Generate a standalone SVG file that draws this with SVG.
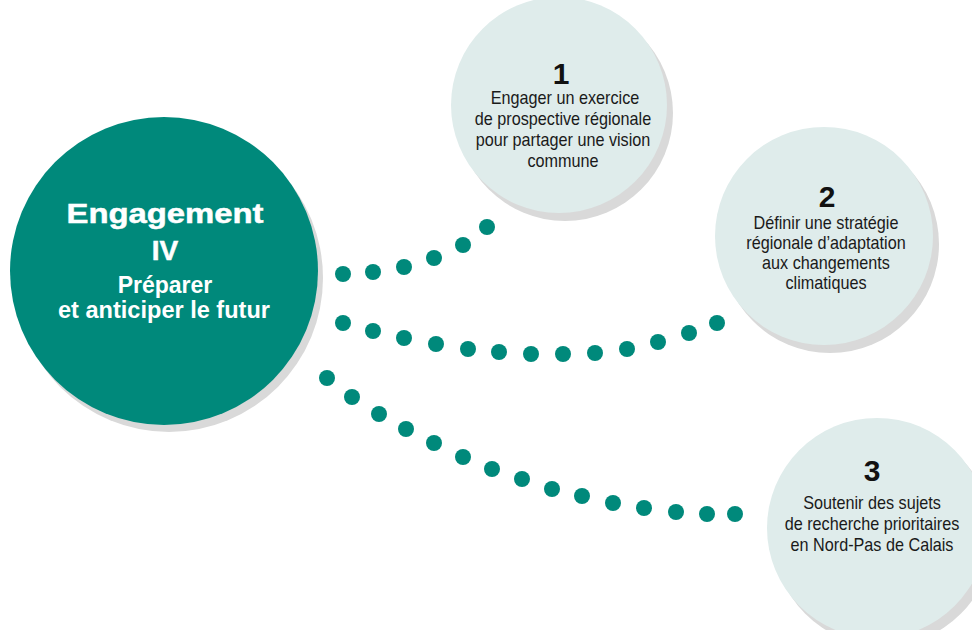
<svg xmlns="http://www.w3.org/2000/svg" width="972" height="630" viewBox="0 0 972 630">
<defs>
<style>
.shadow{fill:#d9d9d9}
.main{fill:#00897b}
.sub{fill:#dfeceb}
.dot{fill:#00897b}
.title{font-family:"Liberation Sans",Arial,sans-serif;font-weight:bold;fill:#ffffff;text-anchor:middle}
.num{font-family:"Liberation Sans",Arial,sans-serif;font-weight:bold;font-size:30px;fill:#111111;text-anchor:middle}
.body{font-family:"Liberation Sans",Arial,sans-serif;font-size:18px;fill:#1a1a1a;text-anchor:middle}
</style>
</defs>
<rect width="972" height="630" fill="#ffffff"/>
<g id="connectors">
<g id="dots-1">
<circle class="dot" cx="343" cy="274" r="8"/>
<circle class="dot" cx="373" cy="272" r="8"/>
<circle class="dot" cx="404" cy="267" r="8"/>
<circle class="dot" cx="434" cy="258" r="8"/>
<circle class="dot" cx="463" cy="245" r="8"/>
<circle class="dot" cx="487" cy="227" r="8"/>
</g>
<g id="dots-2">
<circle class="dot" cx="343" cy="323" r="8"/>
<circle class="dot" cx="373" cy="331" r="8"/>
<circle class="dot" cx="404" cy="338" r="8"/>
<circle class="dot" cx="436" cy="344" r="8"/>
<circle class="dot" cx="468" cy="349" r="8"/>
<circle class="dot" cx="499" cy="352" r="8"/>
<circle class="dot" cx="531" cy="354" r="8"/>
<circle class="dot" cx="563" cy="354" r="8"/>
<circle class="dot" cx="595" cy="353" r="8"/>
<circle class="dot" cx="627" cy="349" r="8"/>
<circle class="dot" cx="658" cy="342" r="8"/>
<circle class="dot" cx="689" cy="333" r="8"/>
<circle class="dot" cx="717" cy="323" r="8"/>
</g>
<g id="dots-3">
<circle class="dot" cx="327" cy="378" r="8"/>
<circle class="dot" cx="352" cy="397" r="8"/>
<circle class="dot" cx="379" cy="414" r="8"/>
<circle class="dot" cx="406" cy="429" r="8"/>
<circle class="dot" cx="434" cy="443" r="8"/>
<circle class="dot" cx="463" cy="457" r="8"/>
<circle class="dot" cx="492" cy="469" r="8"/>
<circle class="dot" cx="522" cy="479" r="8"/>
<circle class="dot" cx="552" cy="489" r="8"/>
<circle class="dot" cx="582" cy="496" r="8"/>
<circle class="dot" cx="613" cy="503" r="8"/>
<circle class="dot" cx="644" cy="508" r="8"/>
<circle class="dot" cx="676" cy="512" r="8"/>
<circle class="dot" cx="707" cy="514" r="8"/>
<circle class="dot" cx="735" cy="514" r="8"/>
</g>
</g>
<g id="node-main">
<circle class="shadow" cx="169" cy="278" r="154"/>
<circle class="main" cx="164" cy="271" r="154"/>
<text class="title" x="165" y="223" font-size="28" textLength="197" lengthAdjust="spacingAndGlyphs" stroke="#ffffff" stroke-width="0.5">Engagement</text>
<text class="title" x="165" y="260" font-size="28" stroke="#ffffff" stroke-width="0.5">IV</text>
<text class="title" x="165" y="293" font-size="23">Préparer</text>
<text class="title" x="164" y="318" font-size="23" textLength="212" lengthAdjust="spacingAndGlyphs">et anticiper le futur</text>
</g>
<g id="node-1">
<circle class="shadow" cx="565" cy="113" r="108"/>
<circle class="sub" cx="559" cy="105" r="108"/>
<text class="num" x="561" y="84">1</text>
<text class="body" transform="translate(565 104) scale(0.9 1)">Engager un exercice</text>
<text class="body" transform="translate(563 125) scale(0.9 1)">de prospective régionale</text>
<text class="body" transform="translate(563 146) scale(0.9 1)">pour partager une vision</text>
<text class="body" transform="translate(563 167) scale(0.9 1)">commune</text>
</g>
<g id="node-2">
<circle class="shadow" cx="830" cy="244" r="109"/>
<circle class="sub" cx="824" cy="236" r="109"/>
<text class="num" x="827" y="207">2</text>
<text class="body" transform="translate(826 229) scale(0.9 1)">Définir une stratégie</text>
<text class="body" transform="translate(826 249) scale(0.9 1)">régionale d’adaptation</text>
<text class="body" transform="translate(826 269) scale(0.9 1)">aux changements</text>
<text class="body" transform="translate(826 289) scale(0.9 1)">climatiques</text>
</g>
<g id="node-3">
<circle class="shadow" cx="883" cy="536" r="110"/>
<circle class="sub" cx="877" cy="528" r="110"/>
<text class="num" x="872" y="481">3</text>
<text class="body" transform="translate(872 509) scale(0.9 1)">Soutenir des sujets</text>
<text class="body" transform="translate(872 530) scale(0.9 1)">de recherche prioritaires</text>
<text class="body" transform="translate(872 551) scale(0.9 1)">en Nord-Pas de Calais</text>
</g>
</svg>
